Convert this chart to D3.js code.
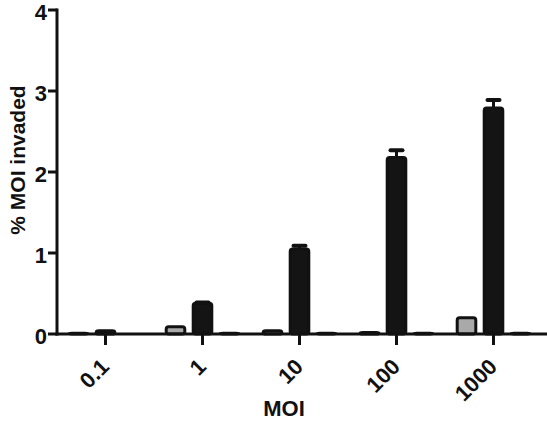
<!DOCTYPE html>
<html><head><meta charset="utf-8">
<script src="https://cdn.jsdelivr.net/npm/d3@7"></script>
<style>body{margin:0;background:#fff}svg{display:block}</style>
</head><body>
<script>
const categories = ["0.1", "1", "10", "100", "1000"];
const seriesNames = ["A", "B", "C"];
const seriesA = [0.01, 0.09, 0.04, 0.02, 0.20];
const seriesB = [0.04, 0.38, 1.05, 2.18, 2.79];
const seriesC = [0.00, 0.01, 0.01, 0.01, 0.01];
const errorsB = [0.00, 0.01, 0.04, 0.09, 0.10];
const yTicks = [0, 1, 2, 3, 4];

const W = 547, H = 422;
const svg = d3.select("body").append("svg").attr("width", W).attr("height", H);
const font = "Liberation Sans, Arial, sans-serif";

const y = d3.scaleLinear().domain([0, 4]).range([334, 10]);
const x = d3.scaleBand().domain(categories).range([57, 542]);
const xi = d3.scaleBand().domain(seriesNames).range([-40.5, 40.5]).paddingInner(0.2).paddingOuter(0.1);

const fills = {A: "#a9a9a9", B: "#141414", C: "#ffffff"};
const data = [];
categories.forEach((c, i) => {
  data.push({c, s: "A", v: seriesA[i], e: 0});
  data.push({c, s: "B", v: seriesB[i], e: errorsB[i]});
  data.push({c, s: "C", v: seriesC[i], e: 0});
});

const eb = svg.append("g");
data.filter(d => d.e > 0).forEach(d => {
  const cx = x(d.c) + x.bandwidth() / 2 + xi(d.s) + xi.bandwidth() / 2;
  eb.append("line").attr("x1", cx).attr("x2", cx).attr("y1", y(d.v)).attr("y2", y(d.v + d.e))
    .attr("stroke", "#111").attr("stroke-width", 3);
  eb.append("line").attr("x1", cx - 6).attr("x2", cx + 6).attr("y1", y(d.v + d.e)).attr("y2", y(d.v + d.e))
    .attr("stroke", "#111").attr("stroke-width", 4).attr("stroke-linecap", "round");
});

const bw = xi.bandwidth();
svg.append("g").selectAll("rect").data(data).join("rect")
  .attr("x", d => x(d.c) + x.bandwidth() / 2 + xi(d.s) + 1.5)
  .attr("width", bw - 3)
  .attr("y", d => y(d.v))
  .attr("height", d => y(0) - y(d.v))
  .attr("rx", 2.5)
  .attr("fill", d => fills[d.s])
  .attr("stroke", "#111").attr("stroke-width", 3).attr("stroke-linejoin", "round");

const ya = svg.append("g");
ya.append("line").attr("x1", 57).attr("x2", 57).attr("y1", y(4) - 1.5).attr("y2", y(0) + 1.5)
  .attr("stroke", "#111").attr("stroke-width", 3);
yTicks.forEach(t => {
  ya.append("line").attr("x1", 48).attr("x2", 57).attr("y1", y(t)).attr("y2", y(t))
    .attr("stroke", "#111").attr("stroke-width", 3);
  ya.append("text").attr("x", 47).attr("y", y(t)).attr("dy", "0.46em")
    .attr("text-anchor", "end").attr("font-family", font).attr("font-weight", "bold")
    .attr("font-size", 22).attr("fill", "#111").text(t);
});

const xa = svg.append("g");
xa.append("line").attr("x1", 55.5).attr("x2", 547).attr("y1", y(0)).attr("y2", y(0))
  .attr("stroke", "#111").attr("stroke-width", 3);
categories.forEach(c => {
  const cx = x(c) + x.bandwidth() / 2;
  xa.append("line").attr("x1", cx).attr("x2", cx).attr("y1", y(0)).attr("y2", y(0) + 11)
    .attr("stroke", "#111").attr("stroke-width", 3);
  xa.append("text").attr("transform", `translate(${cx + 5},${368}) rotate(-45)`)
    .attr("text-anchor", "end").attr("font-family", font).attr("font-weight", "bold")
    .attr("font-size", 22).attr("fill", "#111").text(c);
});

svg.append("text").attr("x", 284).attr("y", 416).attr("text-anchor", "middle")
  .attr("font-family", font).attr("font-weight", "bold").attr("font-size", 22).attr("fill", "#111").text("MOI");
svg.append("text").attr("transform", `translate(25,160) rotate(-90)`).attr("text-anchor", "middle")
  .attr("font-family", font).attr("font-weight", "bold").attr("font-size", 21).attr("fill", "#111").text("% MOI invaded");
</script>
</body></html>
